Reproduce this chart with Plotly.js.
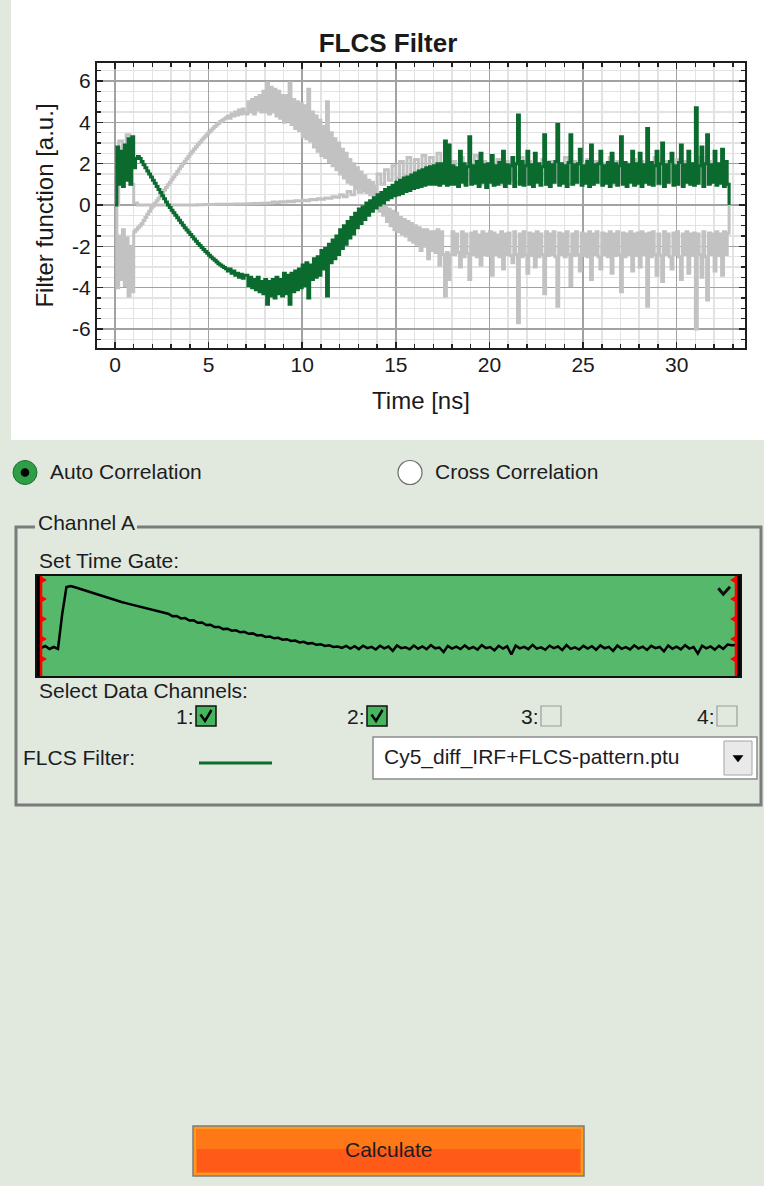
<!DOCTYPE html>
<html><head><meta charset="utf-8">
<script src="https://cdn.plot.ly/plotly-3.0.1.min.js"></script>
<style>html,body{margin:0;padding:0;background:#e1e9de;overflow:hidden}#chart{width:764px;height:1186px}</style>
</head><body><div id="chart"></div>
<script>
// ---------------- data ----------------
const mainTitle = 'FLCS Filter';
const xTitle = 'Time [ns]';
const yTitle = 'Filter function [a.u.]';
const xTickVals = [0, 5, 10, 15, 20, 25, 30];
const xTickText = ['0', '5', '10', '15', '20', '25', '30'];
const yTickVals = [-6, -4, -2, 0, 2, 4, 6];
const yTickText = ['-6', '-4', '-2', '0', '2', '4', '6'];
const binMain = 0.1;   // ns per bin (selected filter and its partner)
const binOther = 0.2;  // ns per bin (second gray pattern)
const binGate = 0.2;   // ns per bin (time gate histogram)

// selected FLCS filter (green), bins of 0.1 ns from 0 to 32.8 ns
const greenFilter = [
 0, 2.8, 1.0, 2.6, 0.9, 2.9, 1.2, 3.2, 1.0, 3.3,
 1.8, 2.25, 2.34, 2.25, 2.1, 1.95, 1.8, 1.65, 1.5, 1.35,
 1.2, 1.05, 0.9, 0.75, 0.6, 0.45, 0.3, 0.15, 0.0, -0.12,
 -0.25, -0.38, -0.5, -0.62, -0.74, -0.86, -0.98, -1.1, -1.21, -1.32,
 -1.43, -1.54, -1.65, -1.76, -1.86, -1.96, -2.06, -2.16, -2.25, -2.34,
 -2.43, -2.52, -2.6, -2.68, -2.76, -2.84, -2.9, -2.97, -3.03, -3.09,
 -3.2, -3.1, -3.3, -3.2, -3.4, -3.3, -3.5, -3.35, -3.55, -3.4,
 -3.4, -3.9, -3.5, -4.0, -3.6, -4.1, -3.5, -4.2, -3.7, -4.3,
 -3.6, -4.8, -3.7, -4.4, -3.6, -4.5, -3.5, -4.3, -3.6, -4.4,
 -3.3, -4.3, -3.4, -4.8, -3.3, -4.2, -3.2, -4.1, -3.1, -4.0,
 -2.9, -3.9, -2.8, -4.5, -2.9, -3.6, -2.6, -3.5, -2.5, -3.4,
 -2.2, -3.1, -2.1, -4.4, -1.9, -2.8, -1.7, -2.6, -1.5, -2.4,
 -1.2, -2.1, -1.0, -1.9, -0.8, -1.6, -0.6, -1.4, -0.4, -1.1,
 -0.2, -0.9, -0.1, -0.7, 0.1, -0.5, 0.2, -0.3, 0.35, -0.15,
 0.5, 0.0, 0.6, 0.1, 0.75, 0.25, 0.85, 0.35, 0.95, 0.45,
 1.1, 0.5, 1.2, 0.55, 1.3, 0.65, 1.35, 0.7, 1.45, 0.8,
 1.55, 0.85, 1.65, 0.9, 1.7, 0.95, 1.8, 1.0, 1.85, 1.0,
 1.9, 1.0, 2.0, 0.95, 2.0, 1.05, 3.1, 0.95, 2.9, 1.0,
 1.9, 1.0, 1.8, 0.9, 2.6, 1.1, 2.0, 0.95, 1.85, 3.3,
 1.0, 1.9, 1.05, 2.1, 0.9, 2.5, 1.1, 1.95, 0.85, 2.0,
 1.1, 2.4, 0.95, 1.9, 1.0, 2.05, 1.1, 2.6, 0.9, 1.95,
 1.05, 1.9, 2.3, 0.9, 2.0, 4.35, 1.0, 2.1, 0.95, 1.9,
 2.6, 1.0, 1.95, 0.9, 2.5, 1.1, 2.0, 0.95, 1.85, 3.4,
 1.0, 2.05, 0.9, 1.95, 1.1, 2.1, 3.9, 0.95, 2.0, 1.05,
 1.9, 0.9, 2.05, 3.4, 1.0, 1.95, 1.1, 2.0, 2.7, 0.95,
 1.9, 1.05, 2.1, 0.9, 2.9, 1.0, 1.95, 1.1, 2.0, 2.6,
 0.95, 1.9, 1.05, 2.05, 0.9, 2.5, 1.1, 2.0, 0.95, 1.9,
 3.3, 1.0, 2.05, 0.9, 1.95, 1.1, 2.6, 0.95, 2.0, 1.05,
 2.5, 0.9, 1.95, 1.1, 3.7, 1.0, 2.05, 0.95, 1.9, 2.6,
 1.05, 2.0, 3.0, 0.9, 1.95, 1.1, 2.1, 2.5, 0.95, 1.9,
 1.0, 2.05, 2.9, 0.9, 1.95, 1.1, 2.6, 1.0, 2.0, 0.95,
 4.7, 1.05, 1.9, 2.8, 0.9, 2.0, 3.4, 1.0, 1.95, 1.1,
 2.6, 0.95, 2.0, 1.05, 2.7, 0.9, 2.1, 1.0,
 0
];

// partner pattern (gray), bins of 0.1 ns
const grayFilterA = [
 0, -4.0, -1.5, -3.6, -1.2, -3.9, -1.6, -4.4, -2.0, -4.2,
 -1.3, -1.2, -1.1, -1.0, -0.9, -0.75, -0.6, -0.45, -0.3, -0.15,
 -0.05, 0.08, 0.2, 0.33, 0.46, 0.59, 0.72, 0.85, 0.98, 1.1,
 1.23, 1.36, 1.49, 1.62, 1.75, 1.88, 2.0, 2.12, 2.24, 2.36,
 2.48, 2.6, 2.71, 2.82, 2.93, 3.04, 3.14, 3.24, 3.34, 3.44,
 3.53, 3.62, 3.71, 3.8, 3.88, 3.96, 4.04, 4.1, 4.16, 4.22,
 4.3, 4.2, 4.4, 4.3, 4.5, 4.35, 4.6, 4.4, 4.65, 4.45,
 4.4, 5.0, 4.5, 5.1, 4.4, 5.2, 4.6, 5.3, 4.5, 5.5,
 4.5, 5.9, 4.4, 5.7, 4.5, 5.6, 4.3, 5.5, 4.2, 5.3,
 4.0, 5.3, 4.1, 5.9, 3.9, 5.1, 3.7, 5.0, 3.6, 4.9,
 3.3, 4.8, 3.2, 5.6, 3.1, 4.5, 2.8, 4.3, 2.6, 4.1,
 2.4, 3.8, 2.3, 5.0, 2.1, 3.5, 1.9, 3.2, 1.7, 3.0,
 1.5, 2.7, 1.3, 2.5, 1.1, 2.2, 1.0, 2.0, 0.9, 1.8,
 0.8, 1.6, 0.7, 1.4, 0.6, 1.2, 0.5, 1.0, 0.35, 0.8,
 0.3, -0.3, 0.1, -0.5, -0.1, -0.8, -0.2, -1.0, -0.3, -1.2,
 -0.4, -1.3, -0.6, -1.4, -0.7, -1.5, -0.8, -1.7, -0.9, -1.8,
 -1.0, -1.9, -1.1, -2.2, -1.2, -2.0, -1.2, -2.6, -1.3, -2.2,
 -1.3, -2.3, -1.2, -2.9, -1.3, -2.4, -4.4, -2.3, -3.6, -2.4,
 -1.3, -2.4, -1.4, -2.3, -3.0, -1.3, -2.5, -1.4, -2.35, -3.6,
 -1.35, -2.4, -1.3, -2.5, -1.45, -2.9, -1.3, -2.4, -1.4, -2.45,
 -1.3, -3.4, -1.35, -2.4, -1.45, -2.5, -1.3, -3.1, -1.4, -2.4,
 -1.35, -2.45, -2.8, -1.3, -2.4, -5.7, -1.4, -2.5, -1.3, -2.4,
 -3.3, -1.35, -2.45, -1.4, -3.0, -1.3, -2.5, -1.4, -2.4, -4.3,
 -1.3, -2.45, -1.4, -2.4, -1.3, -2.5, -4.9, -1.35, -2.4, -1.4,
 -2.5, -1.3, -2.4, -3.9, -1.4, -2.45, -1.3, -2.4, -3.2, -1.35,
 -2.45, -1.4, -2.5, -1.3, -3.6, -1.4, -2.4, -1.3, -2.5, -3.1,
 -1.35, -2.4, -1.4, -2.5, -1.3, -3.3, -1.4, -2.45, -1.3, -2.4,
 -4.2, -1.35, -2.5, -1.4, -2.4, -1.3, -3.2, -1.4, -2.45, -1.35,
 -3.0, -1.3, -2.4, -1.4, -4.9, -1.35, -2.5, -1.3, -2.4, -3.4,
 -1.4, -2.45, -3.7, -1.3, -2.4, -1.4, -2.5, -3.1, -1.35, -2.4,
 -1.3, -2.5, -3.6, -1.4, -2.4, -1.3, -3.3, -1.4, -2.45, -1.35,
 -6.0, -1.4, -2.4, -3.5, -1.3, -2.5, -4.6, -1.35, -2.4, -1.4,
 -3.2, -1.3, -2.45, -1.4, -3.4, -1.3, -2.4, -1.35,
 0
];

// second gray pattern, bins of 0.2 ns
const grayFilterB = [
 0, 3.1, 1.3, 3.4, 1.0, 0.1, 0.0, 0.0, 0.0, 0.0,
 0, 0, 0, 0, 0, 0, 0, 0, 0, 0,
 0.0, 0.0, 0.01, 0.01, 0.02, 0.02, 0.02, 0.03, 0.03, 0.03,
 0.04, 0.04, 0.05, 0.05, 0.05, 0.06, 0.06, 0.07, 0.07, 0.08,
 0.08, 0.1, 0.14, 0.12, 0.16, 0.14, 0.18, 0.16, 0.2, 0.19,
 0.23, 0.21, 0.26, 0.25, 0.3, 0.28, 0.34, 0.33, 0.4, 0.38,
 0.5, 0.4, 0.65, 0.5, 0.8, 0.62, 0.95, 0.75, 1.1, 0.9,
 1.5, 1.0, 1.7, 1.2, 1.9, 1.3, 2.1, 1.4, 2.3, 1.5,
 2.2, 1.35, 2.4, 1.4, 2.3, 1.3, 2.5, 1.2, 2.2, 1.3,
 2.1, 1.1, 2.3, 1.2, 2.0, 1.1, 2.4, 1.0, 2.1, 1.2,
 2.0, 1.1, 2.2, 1.0, 2.1, 1.2, 2.0, 1.1, 2.3, 1.0,
 2.1, 1.1, 2.0, 1.2, 2.2, 1.0, 2.1, 1.1, 2.0, 1.2,
 2.3, 1.0, 2.1, 1.1, 2.0, 1.2, 2.2, 1.0, 2.1, 1.1,
 2.0, 1.2, 2.3, 1.0, 2.1, 1.1, 2.0, 1.2, 2.2, 1.0,
 2.1, 1.1, 2.0, 1.2, 2.3, 1.0, 2.1, 1.1, 2.0, 1.2,
 2.2, 1.0, 2.1, 1.1, 2.0, 1.2, 2.3, 1.0, 2.1, 1.1,
 2.0, 1.2, 2.1, 1.0, 0
];

// time gate decay histogram (arbitrary units 0-100), bins of 0.2 ns
const gateDecay = [
 28, 30, 27, 29, 27, 62, 89, 90, 88.7, 87.3,
 86.0, 84.7, 83.4, 82.0, 80.7, 79.4, 78.0, 76.7, 75.4, 74.0,
 72.9, 71.8, 70.6, 69.5, 68.4, 67.3, 66.1, 65.0, 63.9, 62.8,
 62.3, 59.8, 60.1, 57.6, 57.9, 55.4, 55.7, 53.2, 53.5, 51.0,
 51.2, 48.9, 49.0, 46.9, 47.3, 45.3, 45.7, 43.7, 44.2, 42.2,
 42.6, 40.6, 41.0, 39.0, 39.5, 37.7, 38.2, 36.3, 36.8, 35.0,
 35.5, 33.6, 34.2, 32.4, 33.0, 31.2, 31.8, 30.0, 30.7, 29.1,
 29.5, 28.2, 30.1, 27.5, 29.8, 26.9, 30.3, 27.8, 29.1, 26.5,
 30.2, 27.6, 29.4, 25.2, 30.5, 27.9, 28.8, 26.7, 30.4, 27.3,
 29.6, 26.8, 30.9, 27.7, 28.5, 24.0, 30.1, 27.4, 29.3, 26.9,
 30.6, 27.2, 29.0, 26.4, 30.8, 27.9, 28.9, 25.6, 30.2, 27.5,
 29.7, 21.5, 30.4, 27.6, 29.2, 26.8, 31.1, 27.3, 28.7, 26.2,
 30.3, 27.8, 29.5, 25.9, 30.9, 27.1, 28.6, 26.5, 30.1, 27.4,
 29.8, 26.3, 30.6, 27.7, 29.1, 25.1, 30.4, 27.2, 28.8, 26.6,
 30.7, 27.5, 29.3, 26.1, 30.2, 27.8, 29.0, 24.6, 30.5, 27.3,
 29.4, 26.7, 30.8, 27.4, 28.9, 22.4, 30.3, 27.6, 29.6, 26.4,
 30.1, 27.2, 31.5, 30.8, 31.0
];
const gateStart = 0;      // ns
const gateEnd = 32.8;     // ns
const gateHandleLevels = [96, 77, 57, 37, 17];

const modeLabels = ['Auto Correlation', 'Cross Correlation'];
const channelLabels = ['1:', '2:', '3:', '4:'];
const channelChecked = [true, true, false, false];
const groupLabel = 'Channel A';
const gateLabel = 'Set Time Gate:';
const channelsLabel = 'Select Data Channels:';
const filterLabel = 'FLCS Filter:';
const filterFile = 'Cy5_diff_IRF+FLCS-pattern.ptu';
const buttonLabel = 'Calculate';

// ---------------- drawing ----------------
const W = 764, H = 1186;
const X = px => px / W;
const Y = py => 1 - py / H;
const FONT = 'Liberation Sans, Arial, sans-serif';
const TXT = '#1c1c22';
function timeAxis(n, dt) { const t = []; for (let i = 0; i < n; i++) t.push(Math.round(i * dt * 1000) / 1000); return t; }
function P(pts, close) { return pts.map((p, i) => (i ? 'L' : 'M') + X(p[0]).toFixed(5) + ',' + Y(p[1]).toFixed(5)).join(' ') + (close ? ' Z' : ''); }

const GREEN = '#0b6b2e', GRAY = '#c2c2c2';

const traces = [
  {type: 'scatter', mode: 'lines', x: timeAxis(grayFilterB.length, binOther), y: grayFilterB,
   line: {color: GRAY, width: 3, shape: 'hv'}, xaxis: 'x', yaxis: 'y', hoverinfo: 'skip'},
  {type: 'scatter', mode: 'lines', x: timeAxis(grayFilterA.length, binMain), y: grayFilterA,
   line: {color: GRAY, width: 3, shape: 'hv'}, xaxis: 'x', yaxis: 'y', hoverinfo: 'skip'},
  {type: 'scatter', mode: 'lines', x: timeAxis(greenFilter.length, binMain), y: greenFilter,
   line: {color: GREEN, width: 3, shape: 'hv'}, xaxis: 'x', yaxis: 'y', hoverinfo: 'skip'},
  {type: 'scatter', mode: 'lines', x: timeAxis(gateDecay.length, binGate), y: gateDecay,
   line: {color: '#000', width: 2.5}, xaxis: 'x2', yaxis: 'y2', hoverinfo: 'skip'}
];

const shapes = [];
const annotations = [];
function txt(text, x, y, o) {
  o = o || {};
  annotations.push({text: text, xref: 'paper', yref: 'paper', x: X(x), y: Y(y), showarrow: false,
    xanchor: o.xa || 'left', yanchor: 'middle', font: {family: FONT, size: o.size || 21, color: o.color || TXT}});
}
function rect(x0, y0, x1, y1, fill, lc, lw, layer) {
  shapes.push({type: 'rect', xref: 'paper', yref: 'paper', x0: X(x0), x1: X(x1), y0: Y(y1), y1: Y(y0),
    fillcolor: fill, line: {color: lc || 'rgba(0,0,0,0)', width: lw || 0}, layer: layer || 'above'});
}
function circ(cx, cy, r, fill, lc, lw) {
  shapes.push({type: 'circle', xref: 'paper', yref: 'paper', x0: X(cx - r), x1: X(cx + r), y0: Y(cy + r), y1: Y(cy - r),
    fillcolor: fill, line: {color: lc || 'rgba(0,0,0,0)', width: lw || 0}, layer: 'above'});
}
function path(pts, close, lc, lw, fill) {
  shapes.push({type: 'path', xref: 'paper', yref: 'paper', path: P(pts, close), fillcolor: fill || 'rgba(0,0,0,0)',
    line: {color: lc || 'rgba(0,0,0,0)', width: lw || 0}, layer: 'above'});
}

// backgrounds
rect(11, 0, 764, 440, '#ffffff', null, 0, 'below');
rect(37, 576, 740, 676, '#55b86b', null, 0, 'below');

// gate: outside region black, gate edges red, handles
shapes.push({type: 'rect', xref: 'x2', yref: 'y2', x0: -0.19, x1: gateStart, y0: 0, y1: 100, fillcolor: '#000', line: {width: 0}, layer: 'above'});
shapes.push({type: 'rect', xref: 'x2', yref: 'y2', x0: gateEnd, x1: 32.99, y0: 0, y1: 100, fillcolor: '#000', line: {width: 0}, layer: 'above'});
[gateStart, gateEnd].forEach((g, k) => {
  shapes.push({type: 'line', xref: 'x2', yref: 'y2', x0: g, x1: g, y0: 0, y1: 100, line: {color: '#ff0000', width: 2.5}, layer: 'above'});
  gateHandleLevels.forEach(v => {
    shapes.push({type: 'path', xref: 'x2', yref: 'y2', xsizemode: 'pixel', ysizemode: 'pixel', xanchor: g, yanchor: v,
      path: k === 0 ? 'M0,-3.5 L6,0 L0,3.5 Z' : 'M0,-3.5 L-6,0 L0,3.5 Z', fillcolor: '#ff0000', line: {width: 0}, layer: 'above'});
  });
});
path([[718.3, 588.3], [723.3, 594.3], [730, 586.7]], false, '#111', 3);

// radio buttons
circ(25, 472.5, 12, '#2f9e46', '#1f6f31', 1);
circ(25, 472.5, 4.3, '#000000');
circ(410, 472.5, 12, '#ffffff', '#6b6b6b', 1.2);
txt(modeLabels[0], 48, 471.5);
txt(modeLabels[1], 433, 471.5);

// group box
path([[35, 527], [16, 527], [16, 805], [761, 805], [761, 527], [137, 527]], false, '#7b7b7b', 3);
txt(groupLabel, 36, 522);
txt(gateLabel, 37, 560.5);
txt(channelsLabel, 37, 690);

// channel checkboxes
const boxX = [196, 367, 541, 717];
channelLabels.forEach((lab, i) => {
  const x0 = boxX[i];
  txt(lab, x0 - 0.5, 716, {xa: 'right'});
  if (channelChecked[i]) {
    rect(x0, 706, x0 + 20, 726, '#45b65c', '#111', 1.5);
    path([[x0 + 4.5, 714.5], [x0 + 9, 721], [x0 + 15.5, 710]], false, '#000', 2.5);
  } else {
    rect(x0, 706, x0 + 20, 726, 'rgba(0,0,0,0)', '#9c9c9c', 1.2);
  }
});

// FLCS filter row
txt(filterLabel, 21, 757.5);
shapes.push({type: 'line', xref: 'paper', yref: 'paper', x0: X(199), x1: X(272), y0: Y(763), y1: Y(763), line: {color: GREEN, width: 3}, layer: 'above'});
rect(373, 737, 757, 779, '#ffffff', '#8c8c8c', 1.5);
rect(724, 741, 752, 775, '#e9e9e9', '#a5a5a5', 1);
path([[733, 755.5], [743, 755.5], [738, 762]], true, '#000', 0.5, '#000');
txt(filterFile, 382, 757);

// calculate button
rect(193, 1126, 584, 1176, '#ff9a1e', '#7c7c7c', 1.5);
rect(196, 1129, 581, 1173, '#ff7818', null, 0);
rect(197, 1149, 580, 1172, '#ff5a17', null, 0);
txt(buttonLabel, 389, 1149.5, {xa: 'center'});

const axisCommon = {
  ticks: 'inside', ticklen: 6, tickwidth: 1.5, tickcolor: '#222',
  showline: true, linecolor: '#1e1e1e', linewidth: 2, mirror: 'ticks',
  showgrid: true, gridcolor: '#a2a2a2', gridwidth: 1.5, zeroline: false,
  tickfont: {family: FONT, size: 21, color: '#1a1a1a'}, fixedrange: true, automargin: false
};

const layout = {
  width: W, height: H, autosize: false,
  margin: {l: 0, r: 0, t: 0, b: 0, pad: 0},
  paper_bgcolor: '#e1e9de', plot_bgcolor: 'rgba(0,0,0,0)',
  showlegend: false,
  font: {family: FONT, color: '#1a1a1a'},
  title: {text: mainTitle, x: X(388), xanchor: 'center', y: Y(43), yanchor: 'middle',
          font: {family: FONT, size: 26, weight: 700, color: '#1a1a1a'}},
  xaxis: Object.assign({}, axisCommon, {
    domain: [X(97), X(745)], range: [-0.96, 33.65], anchor: 'y',
    tickmode: 'array', tickvals: xTickVals, ticktext: xTickText, ticklabelstandoff: -3,
    minor: {dtick: 1, tick0: 0, ticks: 'inside', ticklen: 4, tickwidth: 1.5, tickcolor: '#222', showgrid: true, gridcolor: '#e3e3e3', gridwidth: 1.5},
    title: {text: xTitle, font: {family: FONT, size: 24, color: '#1a1a1a'}, standoff: 17}
  }),
  yaxis: Object.assign({}, axisCommon, {
    domain: [Y(348), Y(63)], range: [-6.92, 6.87], anchor: 'x',
    tickmode: 'array', tickvals: yTickVals, ticktext: yTickText, ticklabelstandoff: 0,
    minor: {dtick: 0.5, tick0: 0, ticks: 'inside', ticklen: 4, tickwidth: 1.5, tickcolor: '#222', showgrid: true, gridcolor: '#e3e3e3', gridwidth: 1.5},
    title: {text: yTitle, font: {family: FONT, size: 24, color: '#1a1a1a'}, standoff: 12}
  }),
  xaxis2: {domain: [X(37), X(740)], range: [-0.19, 32.99], anchor: 'y2', showgrid: false, zeroline: false,
    showticklabels: false, ticks: '', showline: true, mirror: true, linecolor: '#111', linewidth: 2, fixedrange: true},
  yaxis2: {domain: [Y(676), Y(576)], range: [0, 100], anchor: 'x2', showgrid: false, zeroline: false,
    showticklabels: false, ticks: '', showline: true, mirror: true, linecolor: '#111', linewidth: 2, fixedrange: true},
  shapes: shapes,
  annotations: annotations
};

Plotly.newPlot('chart', traces, layout, {staticPlot: true, displayModeBar: false, responsive: false});
</script></body></html>
